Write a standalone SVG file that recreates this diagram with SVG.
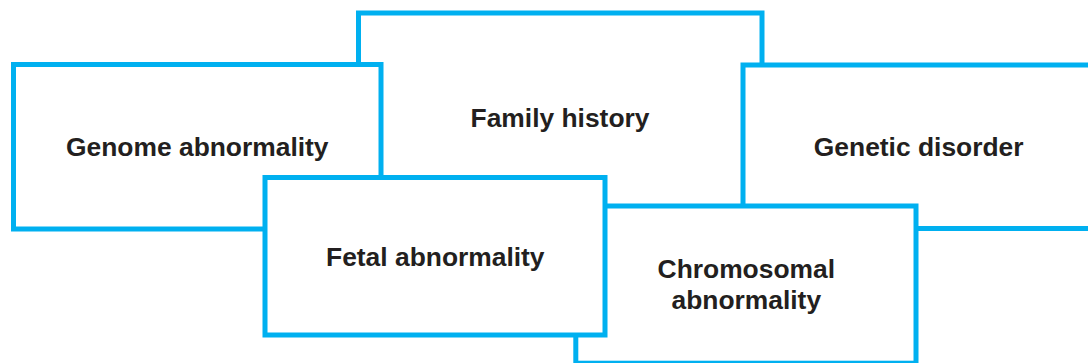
<svg xmlns="http://www.w3.org/2000/svg" width="1088" height="363" viewBox="0 0 1088 363">
<style>
.box{fill:#ffffff;stroke:#00b0f0;stroke-width:5}
.lbl{font-family:"Liberation Sans",Arial,sans-serif;font-weight:bold;font-size:26.4px;fill:#231f20;text-anchor:middle}
</style>
<rect width="1088" height="363" fill="#ffffff"/>
<g id="family-history">
<rect class="box" x="358.5" y="13" width="403.5" height="240"/>
<text class="lbl" x="560" y="127">Family history</text>
</g>
<g id="genome-abnormality">
<rect class="box" x="13.5" y="64.5" width="367.5" height="164.5"/>
<text class="lbl" x="197.3" y="155.7">Genome abnormality</text>
</g>
<g id="genetic-disorder">
<rect class="box" x="743" y="65" width="352" height="163.5"/>
<text class="lbl" x="918.7" y="156">Genetic disorder</text>
</g>
<g id="chromosomal-abnormality">
<rect class="box" x="575.8" y="206" width="340.2" height="157.2"/>
<text class="lbl" x="746.3" y="278.3">Chromosomal</text>
<text class="lbl" x="746.3" y="309.3">abnormality</text>
</g>
<g id="fetal-abnormality">
<rect class="box" x="265" y="177.5" width="340" height="157.5"/>
<text class="lbl" x="435.3" y="266">Fetal abnormality</text>
</g>
<g id="connectors"></g>
</svg>
